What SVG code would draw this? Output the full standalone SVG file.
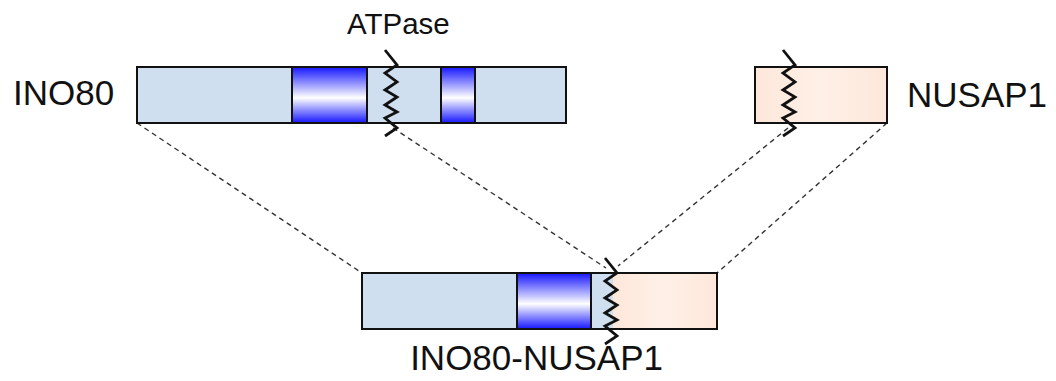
<svg xmlns="http://www.w3.org/2000/svg" width="1056" height="381" viewBox="0 0 1056 381">
  <style>
    .label { font-family: "Liberation Sans", Arial, sans-serif; fill: #111; }
    .bar { stroke: #111; stroke-width: 2; }
    .ino { fill: #cfdff0; }
    .nus { fill: url(#peach); }
    .dom { fill: url(#atpase); stroke: #111; stroke-width: 2; }
    .cut { fill: none; stroke: #111; stroke-width: 2.8; stroke-linejoin: miter; }
    .map { fill: none; stroke: #333; stroke-width: 1.4; stroke-dasharray: 5 4; }
  </style>
  <defs>
    <linearGradient id="atpase" x1="0" y1="0" x2="0" y2="1">
      <stop offset="0" stop-color="#1616ff"/>
      <stop offset="0.55" stop-color="#ffffff"/>
      <stop offset="1" stop-color="#1616ff"/>
    </linearGradient>
    <linearGradient id="peach" x1="0" y1="0" x2="1" y2="0">
      <stop offset="0" stop-color="#fde7da"/>
      <stop offset="0.5" stop-color="#fff0e7"/>
      <stop offset="1" stop-color="#fde7da"/>
    </linearGradient>
    <!-- breakpoint zigzag, drawn around x=0 -->
    <polyline id="zig" class="cut" points="-6,-43 6,-28 -6,-20 6,-11 -6,-3 6,4 -6,12 6,19 -6,25 6,35 -6,43"/>
  </defs>

  <!-- mapping lines between parent genes and fusion -->
  <g id="connectors">
    <line class="map" x1="137" y1="123" x2="362" y2="273"/>
    <line class="map" x1="393" y1="128" x2="606" y2="268"/>
    <line class="map" x1="788" y1="128" x2="618" y2="266"/>
    <line class="map" x1="887" y1="123" x2="717" y2="273"/>
  </g>

  <g id="ino80">
    <rect class="bar ino" x="137" y="67" width="429" height="56"/>
    <rect class="dom" x="292" y="67" width="75" height="56"/>
    <rect class="dom" x="441" y="67" width="34" height="56"/>
    <use href="#zig" x="391" y="93"/>
    <text class="label" x="13" y="105" font-size="35">INO80</text>
    <text class="label" x="347" y="34" font-size="29.5">ATPase</text>
  </g>

  <g id="nusap1">
    <rect class="bar nus" x="755" y="67" width="132" height="56"/>
    <use href="#zig" x="789" y="93"/>
    <text class="label" x="907" y="107" font-size="35">NUSAP1</text>
  </g>

  <g id="fusion">
    <rect class="ino" x="362" y="273" width="251" height="56"/>
    <rect class="nus" x="613" y="273" width="104" height="56"/>
    <rect class="bar" x="362" y="273" width="355" height="56" fill="none"/>
    <rect class="dom" x="517" y="273" width="74" height="56"/>
    <use href="#zig" x="611" y="301"/>
    <text class="label" x="663" y="370" font-size="35" text-anchor="end">INO80-NUSAP1</text>
  </g>
</svg>
